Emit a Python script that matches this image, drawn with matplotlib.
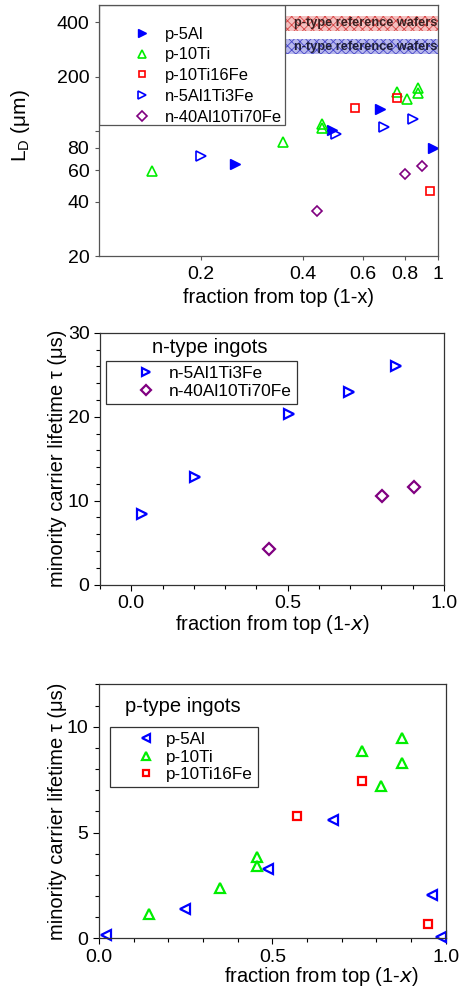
import numpy as np
import matplotlib
matplotlib.use("Agg")
import matplotlib.pyplot as plt
from matplotlib.patches import Rectangle
from matplotlib.ticker import FixedLocator, FixedFormatter, MultipleLocator, NullLocator

plt.rcParams['font.family'] = ['Liberation Sans', 'DejaVu Sans']
plt.rcParams['mathtext.fontset'] = 'custom'
plt.rcParams['mathtext.rm'] = 'Liberation Sans'
plt.rcParams['hatch.linewidth'] = 0.6

#### diffusion length data (top panel, log-log) ####
ld_p5al_x = [0.252, 0.486, 0.674, 0.964]
ld_p5al_y = [65.0, 101, 132, 80.2]
ld_p10ti_x = [0.143, 0.349, 0.455, 0.455, 0.755, 0.809, 0.875, 0.875]
ld_p10ti_y = [59.2, 85.9, 108.6, 102.7, 165, 150, 172, 161]
ld_p10ti16fe_x = [0.569, 0.755, 0.949]
ld_p10ti16fe_y = [133, 151, 45.8]
ld_n5al_x = [0.2, 0.5, 0.693, 0.842]
ld_n5al_y = [72.0, 95.5, 105, 116]
ld_n40al_x = [0.441, 0.8, 0.899]
ld_n40al_y = [35.7, 57.4, 63.4]

# reference wafer bands (um)
ref_p_band = [359, 435]
ref_n_band = [266, 323]

ld_yticks = [20, 40, 60, 80, 100, 200, 400]
ld_yticklabels = ['20', '40', '60', '80', '', '200', '400']
ld_xticks = [0.2, 0.4, 0.6, 0.8, 1.0]
ld_xticklabels = ['0.2', '0.4', '0.6', '0.8', '1']

#### lifetime data, n-type ingots ####
tau_n5al_x = [0.033, 0.203, 0.503, 0.695, 0.846]
tau_n5al_y = [8.4, 12.8, 20.3, 22.9, 26.0]
tau_n40al_x = [0.44, 0.802, 0.903]
tau_n40al_y = [4.2, 10.56, 11.6]

#### lifetime data, p-type ingots ####
tau_p5al_x = [0.02, 0.249, 0.487, 0.674, 0.961, 0.987]
tau_p5al_y = [0.17, 1.39, 3.27, 5.58, 2.05, 0.08]
tau_p10ti_x = [0.143, 0.349, 0.455, 0.455, 0.759, 0.8125, 0.875, 0.875]
tau_p10ti_y = [1.17, 2.38, 3.82, 3.41, 8.85, 7.22, 9.48, 8.28]
tau_p10ti16fe_x = [0.570, 0.760, 0.949]
tau_p10ti16fe_y = [5.79, 7.43, 0.68]

BLUE = '#0000ff'
GREEN = '#00ee00'
RED = '#ff0000'
PURPLE = '#800080'

fig = plt.figure(figsize=(4.59, 9.92), dpi=100)

##################### top panel #####################
ax1 = fig.add_axes([0.2157, 0.7419, 0.7386, 0.2530])
ax1.set_xscale('log')
ax1.set_yscale('log')

ms1 = 6.5
ax1.plot(ld_p5al_x, ld_p5al_y, '>', color=BLUE, ms=ms1, mec=BLUE, label='p-5Al')
ax1.plot(ld_p10ti_x, ld_p10ti_y, '^', mfc='none', mec=GREEN, mew=1.2, ms=ms1, ls='none', label='p-10Ti')
ax1.plot(ld_p10ti16fe_x, ld_p10ti16fe_y, 's', mfc='none', mec=RED, mew=1.2, ms=5.5, ls='none', label='p-10Ti16Fe')
ax1.plot(ld_n5al_x, ld_n5al_y, '>', mfc='none', mec=BLUE, mew=1.2, ms=ms1, ls='none', label='n-5Al1Ti3Fe')
ax1.plot(ld_n40al_x, ld_n40al_y, 'D', mfc='none', mec=PURPLE, mew=1.2, ms=5.5, ls='none', label='n-40Al10Ti70Fe')

ax1.set_xlim(0.1, 1.0)
ax1.set_ylim(20, 500)

# reference bands
ax1.axhspan(ref_p_band[0], ref_p_band[1], xmin=0.546, xmax=1.0, facecolor='#f4c0c0',
            edgecolor='#d84848', hatch='xxxx', lw=0, zorder=1)
ax1.axhspan(ref_n_band[0], ref_n_band[1], xmin=0.546, xmax=1.0, facecolor='#b8b8ec',
            edgecolor='#4848c8', hatch='xxxx', lw=0, zorder=1)
trans = ax1.get_yaxis_transform()
ax1.text(0.997, np.sqrt(ref_p_band[0] * ref_p_band[1]), 'p-type reference wafers', transform=trans,
         ha='right', va='center', fontsize=9.2, fontweight='bold', color='#3a2020', zorder=3)
ax1.text(0.997, np.sqrt(ref_n_band[0] * ref_n_band[1]), 'n-type reference wafers', transform=trans,
         ha='right', va='center', fontsize=9.2, fontweight='bold', color='#20203a', zorder=3)

ax1.xaxis.set_major_locator(FixedLocator(ld_xticks))
ax1.xaxis.set_major_formatter(FixedFormatter(ld_xticklabels))
ax1.xaxis.set_minor_locator(NullLocator())
ax1.yaxis.set_major_locator(FixedLocator(ld_yticks))
ax1.yaxis.set_major_formatter(FixedFormatter(ld_yticklabels))
ax1.yaxis.set_minor_locator(NullLocator())
ax1.tick_params(labelsize=14, length=3, width=0.8, color='#555555', pad=4)
for sp in ax1.spines.values():
    sp.set_color('#555555')
    sp.set_linewidth(0.9)

# legend box (white, partly covering the axis)
ax1.add_patch(Rectangle((0, 0.522), 0.549, 0.478, transform=ax1.transAxes, facecolor='white',
                        edgecolor='#555555', lw=0.9, zorder=2))
leg1 = ax1.legend(loc='upper left', bbox_to_anchor=(0.0915, 0.914), frameon=False, fontsize=11.9,
                  borderpad=0, borderaxespad=0, handlelength=1.5, handletextpad=0.62,
                  labelspacing=0.35, numpoints=1, markerscale=0.85)
leg1.set_zorder(4)

ax1.set_xlabel('fraction from top (1-x)', fontsize=14.4)
ax1.xaxis.set_label_coords(0.528, -0.128)
ax1.set_ylabel(r'L$_\mathregular{D}$ ($\mathregular{\mu}$m)', fontsize=15)
ax1.yaxis.set_label_coords(-0.198, 0.52)

##################### middle panel #####################
ax2 = fig.add_axes([0.2179, 0.4106, 0.7495, 0.2540])
ms2 = 7.3
ax2.plot(tau_n5al_x, tau_n5al_y, '>', mfc='none', mec=BLUE, mew=1.6, ms=ms2, ls='none', label='n-5Al1Ti3Fe')
ax2.plot(tau_n40al_x, tau_n40al_y, 'D', mfc='none', mec=PURPLE, mew=1.6, ms=6.5, ls='none', label='n-40Al10Ti70Fe')
ax2.set_xlim(-0.1, 1.0)
ax2.set_ylim(0, 30)
ax2.xaxis.set_major_locator(MultipleLocator(0.5))
ax2.xaxis.set_minor_locator(MultipleLocator(0.1))
ax2.yaxis.set_major_locator(MultipleLocator(10))
ax2.yaxis.set_minor_locator(MultipleLocator(2))
ax2.tick_params(which='major', labelsize=14, length=4.5, width=0.8, direction='out', pad=3)
ax2.tick_params(which='minor', length=2.8, width=0.8, direction='out')
for sp in ax2.spines.values():
    sp.set_color('#333333')
    sp.set_linewidth(0.9)

ax2.text(0.151, 0.94, 'n-type ingots', transform=ax2.transAxes, fontsize=14.5, ha='left', va='center')
leg2 = ax2.legend(loc='upper left', bbox_to_anchor=(0.0166, 0.888), borderaxespad=0, fontsize=12.5,
                  fancybox=False, edgecolor='#333333', framealpha=1, borderpad=0.3,
                  handlelength=4.0, handletextpad=-0.65, labelspacing=0.15, numpoints=1,
                  markerscale=0.75)
leg2.get_frame().set_linewidth(0.9)

ax2.set_xlabel('fraction from top (1-$\\mathit{x}$)', fontsize=14.5)
ax2.xaxis.set_label_coords(0.5, -0.112)
ax2.set_ylabel('minority carrier lifetime \u03c4 (\u03bcs)', fontsize=14.5)
ax2.yaxis.set_label_coords(-0.096, 0.5)

##################### bottom panel #####################
ax3 = fig.add_axes([0.2157, 0.0541, 0.7553, 0.2560])
ms3 = 7.5
ax3.plot(tau_p5al_x, tau_p5al_y, '<', mfc='none', mec=BLUE, mew=1.6, ms=ms3, ls='none', label='p-5Al', clip_on=False)
ax3.plot(tau_p10ti_x, tau_p10ti_y, '^', mfc='none', mec=GREEN, mew=1.6, ms=ms3, ls='none', label='p-10Ti', clip_on=False)
ax3.plot(tau_p10ti16fe_x, tau_p10ti16fe_y, 's', mfc='none', mec=RED, mew=1.6, ms=6, ls='none', label='p-10Ti16Fe', clip_on=False)
ax3.set_xlim(0, 1.0)
ax3.set_ylim(0, 12)
ax3.xaxis.set_major_locator(MultipleLocator(0.5))
ax3.xaxis.set_minor_locator(MultipleLocator(0.1))
ax3.yaxis.set_major_locator(MultipleLocator(5))
ax3.yaxis.set_minor_locator(MultipleLocator(1))
ax3.tick_params(which='major', labelsize=14, length=4.5, width=0.8, direction='out', pad=3)
ax3.tick_params(which='minor', length=2.8, width=0.8, direction='out')
for sp in ax3.spines.values():
    sp.set_color('#333333')
    sp.set_linewidth(0.9)

ax3.text(0.075, 0.912, 'p-type ingots', transform=ax3.transAxes, fontsize=14.5, ha='left', va='center')
leg3 = ax3.legend(loc='upper left', bbox_to_anchor=(0.0317, 0.832), borderaxespad=0, fontsize=12.3,
                  fancybox=False, edgecolor='#333333', framealpha=1, borderpad=0.3,
                  handlelength=3.6, handletextpad=-0.65, labelspacing=0.15, numpoints=1,
                  markerscale=0.7)
leg3.get_frame().set_linewidth(0.9)

ax3.set_xlabel('fraction from top (1-$\\mathit{x}$)', fontsize=14.5)
ax3.xaxis.set_label_coords(0.643, -0.105)
ax3.set_ylabel('minority carrier lifetime \u03c4 (\u03bcs)', fontsize=14.5)
ax3.yaxis.set_label_coords(-0.092, 0.5)

fig.savefig('out.png', dpi=100)
